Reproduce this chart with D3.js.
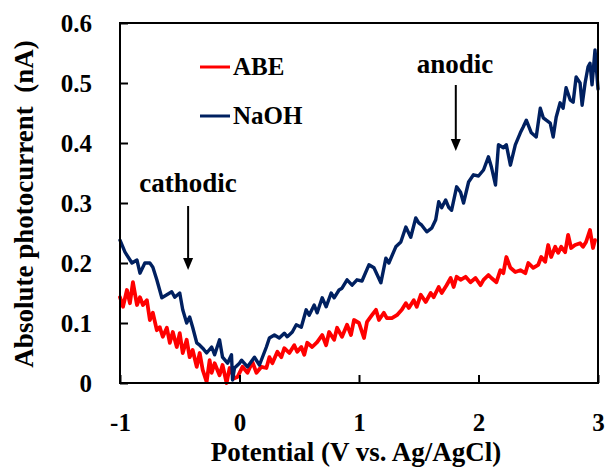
<!DOCTYPE html>
<html>
<head>
<meta charset="utf-8">
<script src="https://cdn.jsdelivr.net/npm/d3@7"></script>
<style>
  html, body { margin: 0; padding: 0; background: #fff; }
  svg text { font-family: "Liberation Serif", "Times New Roman", serif; font-weight: bold; fill: #000; }
</style>
</head>
<body>
<svg id="chart" width="607" height="470"></svg>
<script>
// Potential sweep (V vs. Ag/AgCl) and absolute photocurrent (nA)
const abePotential = [-1.000,-0.975,-0.942,-0.917,-0.892,-0.858,-0.833,-0.808,-0.775,-0.750,-0.725,-0.692,-0.667,-0.642,-0.608,-0.583,-0.558,-0.525,-0.500,-0.475,-0.442,-0.417,-0.392,-0.358,-0.333,-0.308,-0.275,-0.250,-0.233,-0.208,-0.167,-0.142,-0.108,-0.083,-0.042,-0.017,0.025,0.067,0.108,0.142,0.183,0.225,0.250,0.275,0.317,0.350,0.375,0.417,0.458,0.483,0.517,0.542,0.567,0.608,0.650,0.692,0.725,0.750,0.792,0.817,0.858,0.900,0.933,0.958,1.000,1.042,1.067,1.108,1.142,1.167,1.208,1.233,1.275,1.317,1.358,1.392,1.417,1.458,1.483,1.517,1.558,1.600,1.625,1.667,1.692,1.733,1.767,1.792,1.817,1.850,1.892,1.933,1.975,2.017,2.042,2.083,2.108,2.150,2.183,2.208,2.233,2.267,2.308,2.350,2.392,2.417,2.458,2.500,2.525,2.558,2.583,2.608,2.642,2.667,2.692,2.725,2.750,2.775,2.808,2.850,2.875,2.900,2.933,2.958,2.975];
const abeCurrent = [0.143,0.127,0.155,0.133,0.168,0.130,0.143,0.130,0.138,0.105,0.117,0.088,0.093,0.077,0.092,0.067,0.085,0.060,0.083,0.050,0.072,0.043,0.055,0.027,0.050,0.022,0.002,0.038,0.017,0.033,0.013,0.030,0.000,0.025,0.008,0.010,0.027,0.017,0.035,0.017,0.027,0.025,0.043,0.033,0.052,0.043,0.058,0.050,0.063,0.052,0.060,0.047,0.067,0.060,0.068,0.080,0.063,0.085,0.072,0.092,0.077,0.097,0.080,0.105,0.100,0.075,0.102,0.113,0.122,0.105,0.117,0.108,0.108,0.113,0.122,0.133,0.125,0.138,0.127,0.147,0.135,0.150,0.143,0.160,0.150,0.163,0.175,0.160,0.177,0.172,0.177,0.168,0.175,0.163,0.172,0.180,0.175,0.168,0.188,0.183,0.210,0.192,0.185,0.188,0.183,0.200,0.192,0.197,0.210,0.202,0.230,0.210,0.227,0.217,0.227,0.218,0.247,0.225,0.230,0.233,0.227,0.235,0.255,0.225,0.238];

const naohPotential = [-1.000,-0.958,-0.900,-0.858,-0.833,-0.792,-0.750,-0.725,-0.692,-0.650,-0.608,-0.567,-0.542,-0.500,-0.475,-0.442,-0.417,-0.392,-0.358,-0.333,-0.308,-0.275,-0.233,-0.208,-0.167,-0.142,-0.100,-0.067,-0.058,-0.042,0.000,0.017,0.067,0.125,0.167,0.225,0.250,0.292,0.333,0.375,0.400,0.442,0.475,0.517,0.558,0.583,0.625,0.650,0.692,0.725,0.767,0.792,0.833,0.858,0.900,0.942,0.983,1.025,1.083,1.125,1.183,1.225,1.250,1.308,1.350,1.392,1.433,1.475,1.500,1.525,1.567,1.608,1.642,1.667,1.692,1.725,1.750,1.775,1.817,1.850,1.875,1.917,1.958,2.000,2.042,2.083,2.108,2.142,2.167,2.208,2.233,2.267,2.308,2.350,2.375,2.400,2.442,2.483,2.517,2.542,2.567,2.600,2.625,2.650,2.683,2.708,2.733,2.767,2.792,2.817,2.850,2.867,2.892,2.917,2.933,2.950,2.975,3.000];
const naohCurrent = [0.238,0.218,0.200,0.205,0.183,0.200,0.200,0.193,0.172,0.142,0.147,0.152,0.143,0.150,0.122,0.100,0.110,0.093,0.067,0.063,0.058,0.050,0.060,0.047,0.072,0.043,0.033,0.047,0.005,0.025,0.033,0.038,0.027,0.043,0.030,0.060,0.075,0.080,0.075,0.083,0.077,0.085,0.097,0.093,0.122,0.113,0.130,0.117,0.142,0.127,0.150,0.142,0.155,0.158,0.172,0.163,0.172,0.170,0.197,0.192,0.167,0.208,0.200,0.227,0.235,0.260,0.243,0.275,0.267,0.263,0.252,0.258,0.272,0.302,0.292,0.305,0.293,0.288,0.327,0.318,0.300,0.335,0.347,0.345,0.355,0.377,0.360,0.330,0.397,0.392,0.397,0.363,0.397,0.417,0.427,0.438,0.417,0.410,0.458,0.442,0.438,0.433,0.410,0.443,0.467,0.458,0.492,0.472,0.468,0.510,0.500,0.463,0.500,0.527,0.533,0.497,0.555,0.490];

const xTickValues = [-1, 0, 1, 2, 3];
const yTickValues = [0, 0.1, 0.2, 0.3, 0.4, 0.5, 0.6];
const seriesNames = ["ABE", "NaOH"];
const seriesColors = ["#ff0000", "#002060"];

const svg = d3.select("#chart");
const plot = { left: 120, right: 598, top: 23, bottom: 383 };

const x = d3.scaleLinear().domain([-1, 3]).range([plot.left, plot.right]);
const y = d3.scaleLinear().domain([0, 0.6]).range([plot.bottom, plot.top]);

const series = [
  { name: seriesNames[0], color: seriesColors[0], xs: abePotential, ys: abeCurrent, width: 3.8 },
  { name: seriesNames[1], color: seriesColors[1], xs: naohPotential, ys: naohCurrent, width: 3.4 }
];

const line = d3.line().x(d => x(d[0])).y(d => y(d[1]));

// data traces
series.forEach(s => {
  svg.append("path")
    .datum(s.xs.map((v, i) => [v, s.ys[i]]))
    .attr("d", line)
    .attr("fill", "none")
    .attr("stroke", s.color)
    .attr("stroke-width", s.width)
    .attr("stroke-linejoin", "round")
    .attr("stroke-linecap", "round");
});

// frame
svg.append("rect")
  .attr("x", plot.left).attr("y", plot.top)
  .attr("width", plot.right - plot.left).attr("height", plot.bottom - plot.top)
  .attr("fill", "none").attr("stroke", "#000").attr("stroke-width", 2);

// x axis: inward ticks, labels below (plain hyphen for negatives)
const xAxis = svg.append("g")
  .attr("transform", `translate(0,${plot.bottom})`)
  .call(d3.axisBottom(x).tickValues(xTickValues).tickSizeInner(-8).tickSizeOuter(0).tickPadding(28)
    .tickFormat(d => String(d)));
xAxis.select(".domain").remove();
xAxis.selectAll("line").attr("stroke", "#000").attr("stroke-width", 2);
xAxis.selectAll("text").style("font-size", "25px").attr("dy", "0.71em").attr("y", 30);

// y axis: inward ticks, labels left
const yAxis = svg.append("g")
  .attr("transform", `translate(${plot.left},0)`)
  .call(d3.axisLeft(y).tickValues(yTickValues).tickSizeInner(-8).tickSizeOuter(0).tickPadding(28)
    .tickFormat(d => d === 0 ? "0" : d3.format(".1f")(d)));
yAxis.select(".domain").remove();
yAxis.selectAll("line").attr("stroke", "#000").attr("stroke-width", 2);
yAxis.selectAll("text").style("font-size", "25px").attr("x", -28);

// axis titles
svg.append("text")
  .attr("x", (plot.left + plot.right) / 2 - 3).attr("y", 461)
  .attr("text-anchor", "middle").style("font-size", "27px")
  .text("Potential (V vs. Ag/AgCl)");

svg.append("text")
  .attr("transform", "translate(33,204) rotate(-90)")
  .attr("text-anchor", "middle").style("font-size", "27px")
  .attr("xml:space", "preserve")
  .text("Absolute photocurrent  (nA)");

// legend
const legendRows = [67, 116];
series.forEach((s, i) => {
  const g = svg.append("g").attr("transform", `translate(200,${legendRows[i]})`);
  g.append("line").attr("x1", 0).attr("x2", 30).attr("y1", 0).attr("y2", 0)
    .attr("stroke", s.color).attr("stroke-width", 3);
  g.append("text").attr("x", 33).attr("y", 8).style("font-size", "25px").text(s.name);
});

// annotations with arrows
function arrow(xv, y0, y1) {
  svg.append("line").attr("x1", xv).attr("x2", xv).attr("y1", y0).attr("y2", y1 - 10)
    .attr("stroke", "#000").attr("stroke-width", 2);
  svg.append("path")
    .attr("d", `M${xv - 5},${y1 - 12} L${xv + 5},${y1 - 12} L${xv},${y1} Z`)
    .attr("fill", "#000");
}
svg.append("text").attr("x", 188).attr("y", 192).attr("text-anchor", "middle")
  .style("font-size", "27px").text("cathodic");
arrow(x(-0.43), 206, 270);

svg.append("text").attr("x", 455).attr("y", 73).attr("text-anchor", "middle")
  .style("font-size", "27px").text("anodic");
arrow(x(1.81), 85, 151);
</script>
</body>
</html>
